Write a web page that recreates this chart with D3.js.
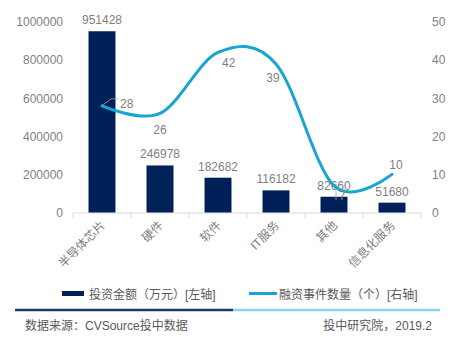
<!DOCTYPE html>
<html><head><meta charset="utf-8">
<script src="https://cdn.jsdelivr.net/npm/d3@7"></script>
<style>
body{margin:0;background:#fff;}
text{font-family:"Liberation Sans","Noto Sans CJK SC",Arial,sans-serif;}
</style></head>
<body><svg id="c" width="462" height="337"></svg>
<script>
const categories = ["半导体芯片","硬件","软件","IT服务","其他","信息化服务"];
const amounts = [951428,246978,182682,116182,82660,51680];
const counts = [28,26,42,39,7,10];
const leftTicks = [0,200000,400000,600000,800000,1000000];
const rightTicks = [0,10,20,30,40,50];
const legendLabels = ["投资金额（万元）[左轴]","融资事件数量（个）[右轴]"];
const sourceText = "数据来源：CVSource投中数据";
const creditText = "投中研究院，2019.2";

const barColor = "#002157", lineColor = "#18a5d1", grey = "#7f7f7f", darkGrey = "#595959";
const svg = d3.select("#c");
svg.append("rect").attr("width",462).attr("height",337).attr("fill","#fff");

const x = d3.scaleBand().domain(categories).range([73,421]).paddingInner(0.535).paddingOuter(0.2675);
const xc = d3.scaleBand().domain(categories).range([73,421]);
const yL = d3.scaleLinear().domain([0,1000000]).range([212.5,22]);
const yR = d3.scaleLinear().domain([0,50]).range([212.5,22]);

// left axis
const ga = svg.append("g").attr("transform","translate(73,0)")
  .call(d3.axisLeft(yL).tickValues(leftTicks).tickSize(0).tickPadding(10).tickFormat(d3.format("d")));
ga.select(".domain").remove();
ga.selectAll("text").attr("fill",grey).style("font-size","12px");
// right axis
const gr = svg.append("g").attr("transform","translate(421,0)")
  .call(d3.axisRight(yR).tickValues(rightTicks).tickSize(0).tickPadding(11));
gr.select(".domain").remove();
gr.selectAll("text").attr("fill",grey).style("font-size","12px");

// x axis
svg.append("line").attr("x1",73).attr("x2",421).attr("y1",213).attr("y2",213).attr("stroke","#d9d9d9");
const bounds = categories.map(c=>xc(c)).concat([421]);
svg.selectAll(".xt").data(bounds).enter().append("line")
  .attr("x1",d=>d).attr("x2",d=>d).attr("y1",213).attr("y2",218).attr("stroke","#d9d9d9");
svg.selectAll(".xl").data(categories).enter().append("text")
  .attr("transform",d=>`translate(${xc(d)+xc.bandwidth()/2+1},223) rotate(-45)`)
  .attr("text-anchor","end").attr("dy","0.35em").attr("fill",grey).style("font-size","12px")
  .text(d=>d);

// bars
svg.selectAll(".bar").data(categories).enter().append("rect")
  .attr("x",d=>x(d)).attr("width",x.bandwidth())
  .attr("y",(d,i)=>yL(amounts[i])).attr("height",(d,i)=>yL(0)-yL(amounts[i]))
  .attr("fill",barColor);
// bar labels
svg.selectAll(".bl").data(categories).enter().append("text")
  .attr("x",d=>xc(d)+xc.bandwidth()/2).attr("y",(d,i)=>yL(amounts[i])-7)
  .attr("text-anchor","middle").attr("fill",grey).style("font-size","12px")
  .text((d,i)=>amounts[i]);

// line
const pts = categories.map((c,i)=>[xc(c)+xc.bandwidth()/2, yR(counts[i])]);
svg.append("path").datum(pts).attr("d",d3.line().curve(d3.curveCardinal.tension(0)))
  .attr("fill","none").attr("stroke",lineColor).attr("stroke-width",3).attr("stroke-linecap","round");

// line labels
const off = [[18,-2,"start"],[0,16,"middle"],[4,10,"start"],[-3,14,"middle"],[5,10,"start"],[4,-10,"middle"]];
counts.forEach((v,i)=>{
  const p = pts[i];
  svg.append("text").attr("x",p[0]+off[i][0]).attr("y",p[1]+off[i][1]).attr("dy","0.35em")
    .attr("text-anchor",off[i][2]).attr("fill",grey).style("font-size","12px").text(v);
});
// leader lines
svg.append("polyline").attr("points",[[pts[0][0],pts[0][1]],[pts[0][0]+9,pts[0][1]-7],[pts[0][0]+16,pts[0][1]-7]].join(" "))
  .attr("fill","none").attr("stroke","#a6a6a6").attr("stroke-width",0.8);
svg.append("line").attr("x1",pts[4][0]+2).attr("x2",pts[4][0]+2).attr("y1",pts[4][1]+5).attr("y2",pts[4][1]+14)
  .attr("stroke","#a6a6a6").attr("stroke-width",0.8);

// legend
svg.append("rect").attr("x",62).attr("y",291).attr("width",22).attr("height",5).attr("fill",barColor);
svg.append("text").attr("x",89).attr("y",298.5).attr("fill",darkGrey).style("font-size","12px").text(legendLabels[0]);
svg.append("line").attr("x1",249).attr("x2",277).attr("y1",293.5).attr("y2",293.5).attr("stroke",lineColor).attr("stroke-width",3);
svg.append("text").attr("x",279).attr("y",298.5).attr("fill",darkGrey).style("font-size","12px").text(legendLabels[1]);

// footer
svg.append("line").attr("x1",15).attr("x2",233).attr("y1",310).attr("y2",310).attr("stroke","#1f3a6e").attr("stroke-width",2.5);
svg.append("line").attr("x1",233).attr("x2",440).attr("y1",310).attr("y2",310).attr("stroke","#8ed3ee").attr("stroke-width",2.5);
svg.append("text").attr("x",25).attr("y",329.5).attr("fill",darkGrey).style("font-size","12px").text(sourceText);
svg.append("text").attr("x",432).attr("y",329.5).attr("text-anchor","end").attr("fill",darkGrey).style("font-size","12px").text(creditText);
</script></body></html>
